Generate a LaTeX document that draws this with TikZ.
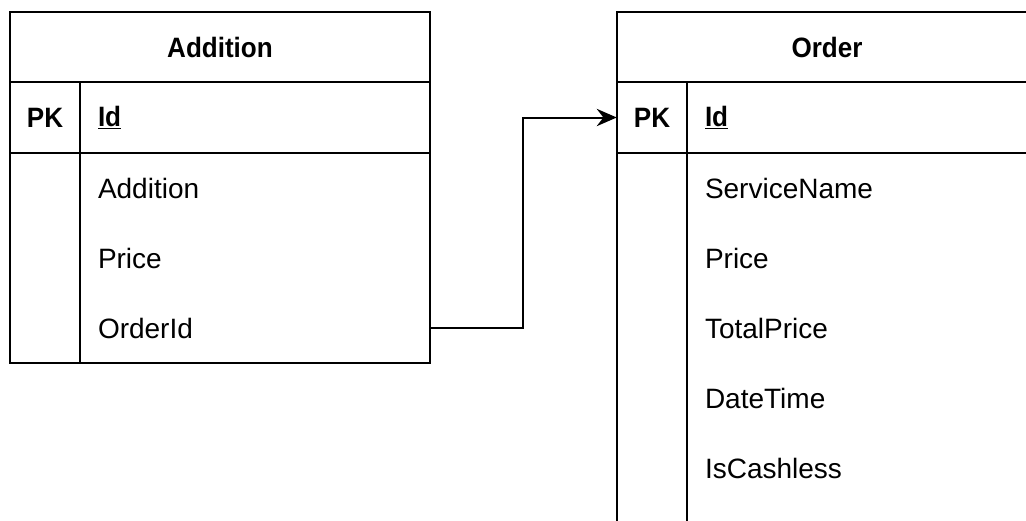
\documentclass[tikz,border=0pt]{standalone}
\usepackage{fontspec}
\setmainfont{Liberation Sans}[BoldFeatures={FakeStretch=0.93}]
\usetikzlibrary{arrows.meta}

\newcommand\tablefont{\fontsize{21pt}{25pt}\selectfont}

\tikzset{
  frame/.style={draw=black, line width=1.5pt},
  title/.style={minimum width=315pt, minimum height=52.5pt, inner sep=0pt,
                font=\tablefont\bfseries},
  keycell/.style={minimum width=52.5pt, minimum height=52.5pt, inner sep=0pt,
                  font=\tablefont\bfseries},
  fieldcell/.style={text width=235.5pt, inner xsep=13.5pt, inner ysep=0pt,
                    minimum height=52.5pt, align=left, font=\tablefont},
  conn/.style={draw=black, line width=1.5pt,
               -{Stealth[length=15pt, width=13pt, inset=5pt]}},
}

\begin{document}
\begin{tikzpicture}[x=0.75pt, y=-0.75pt]
  \useasboundingbox (0,0) rectangle (1026,521);
  \clip (0,0) rectangle (1026,521);

  % ---- table: Addition ----
  \draw[frame] (10,12) rectangle (430,363);
  \draw[frame] (10,82) -- (430,82);
  \draw[frame] (10,153) -- (430,153);
  \draw[frame] (80,82) -- (80,363);

  \node[title] (aTitle) at (220,47) {Addition};
  \node[keycell] (aPK) at (45,117.5) {PK};
  \node[fieldcell] (aId) at (255,117.5) {\textbf{\underline{Id}}};
  \node[fieldcell] (aAddition) at (255,188) {Addition};
  \node[fieldcell] (aPrice) at (255,258) {Price};
  \node[fieldcell] (aOrderId) at (255,328) {OrderId};

  % ---- table: Order ----
  \draw[frame] (617,12) rectangle (1037,620);
  \draw[frame] (617,82) -- (1037,82);
  \draw[frame] (617,153) -- (1037,153);
  \draw[frame] (687,82) -- (687,620);

  \node[title] (oTitle) at (827,47) {Order};
  \node[keycell] (oPK) at (652,117.5) {PK};
  \node[fieldcell] (oId) at (862,117.5) {\textbf{\underline{Id}}};
  \node[fieldcell] (oServiceName) at (862,188) {ServiceName};
  \node[fieldcell] (oPrice) at (862,258) {Price};
  \node[fieldcell] (oTotalPrice) at (862,328) {TotalPrice};
  \node[fieldcell] (oDateTime) at (862,398) {DateTime};
  \node[fieldcell] (oIsCashless) at (862,468) {IsCashless};

  % ---- foreign key: Addition.OrderId -> Order.Id ----
  \draw[conn] (aOrderId.east) -- ++(93,0) |- (oPK.west);
\end{tikzpicture}
\end{document}
